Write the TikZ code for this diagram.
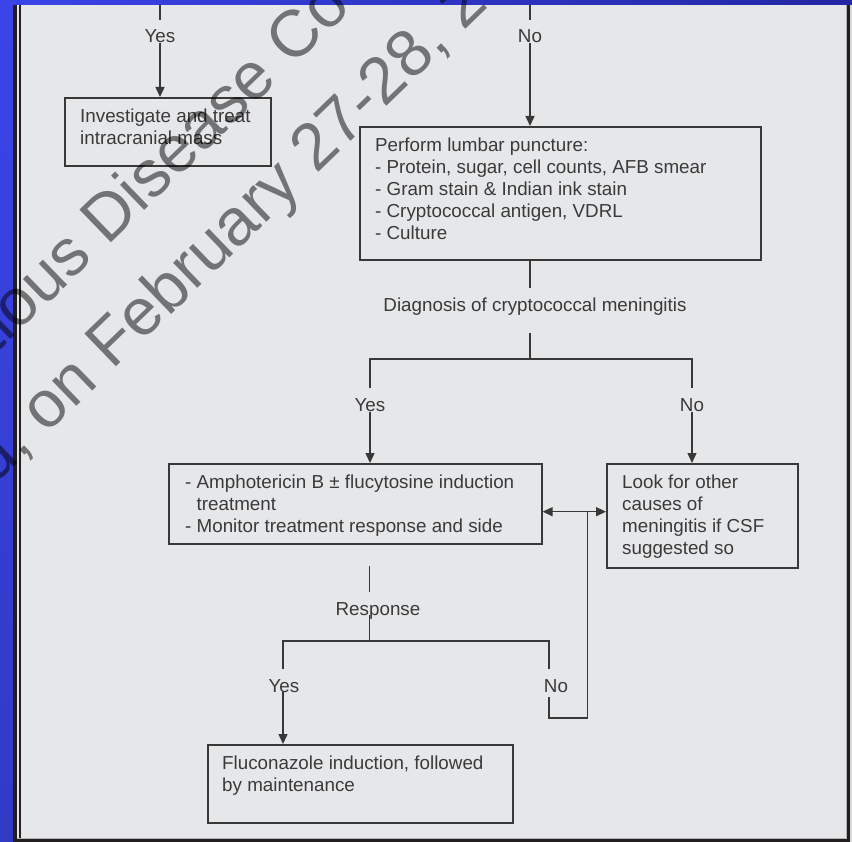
\documentclass[tikz,border=0pt]{standalone}
\usepackage{fontspec}
\setmainfont{Liberation Sans}
\usetikzlibrary{arrows.meta}
\definecolor{panel}{HTML}{E6E7E9}
\definecolor{inkcol}{HTML}{3A3A3A}
\definecolor{bluebar}{HTML}{3B44E8}
\definecolor{bluedark}{HTML}{2327A4}
\definecolor{framecol}{HTML}{231F20}
\colorlet{linecol}{black!78}
\tikzstyle{box}=[draw=linecol, line width=1.6pt, anchor=north west, inner sep=0pt]
\tikzstyle{boxtext}=[anchor=north west, align=left, inner xsep=16pt,
inner ysep=12pt, text=inkcol, font=\fontsize{18.8}{22}\selectfont]
\tikzstyle{lbl}=[anchor=base, inner xsep=2pt, inner ysep=0pt, text height=23pt,
text depth=0pt, text=inkcol, font=\fontsize{18.8}{22}\selectfont]
\tikzstyle{conn}=[draw=linecol, line width=1.4pt]
\tikzstyle{arr}=[conn, -{Triangle[length=10pt,width=9pt]}]
\tikzstyle{dblarr}=[conn, {Triangle[length=10pt,width=9pt]}-{Triangle[length=10pt,width=9pt]}]
\tikzstyle{wmark}=[anchor=base west, inner sep=0pt, rotate=44, text=black,
text opacity=0.5, font=\fontsize{66}{66}\selectfont]

\begin{document}
\begin{tikzpicture}[x=1pt, y=-1pt]
  \useasboundingbox (0,0) rectangle (852,842);
  % Frame
  \fill[panel] (13,0) rectangle (852,842);
  \fill[black!15] (850,5) rectangle (852,842);
  \shade[top color=bluebar, bottom color=bluebar!85!black] (0,0) rectangle (13,842);
  \draw[white!70!black, line width=1pt] (846.5,5) -- (846.5,838.5) -- (17,838.5);
  \draw[framecol, line width=4pt] (15,5) -- (15,842);
  \draw[framecol, line width=1.5pt] (20,5) -- (20,838);
  \draw[framecol, line width=3pt] (13,840.5) -- (850,840.5);
  \draw[framecol, line width=3pt] (848.5,5) -- (848.5,842);
  \shade[left color=bluebar, right color=bluedark] (0,0) rectangle (852,5);
  \coordinate (top1) at (160,5);
  \coordinate (top2) at (530,5);
  \coordinate (split1) at (530,359);
  \coordinate (loop) at (587.5,511.7);
  \coordinate (rtop) at (369.5,566);
  \coordinate (ly) at (283,641);
  \coordinate (ln) at (549,641);
  \coordinate (bend) at (587.5,718);
  % Boxes
  \node[box, minimum width=206pt, minimum height=68pt] (inv) at (64,97) {};
  \node[boxtext] (invt) at (inv.north west) {Investigate and treat\\intracranial mass};
  \node[box, minimum width=401pt, minimum height=133pt] (lp) at (359,126) {};
  \node[boxtext] (lpt) at (lp.north west) {Perform lumbar puncture:\\
    - Protein, sugar, cell counts, AFB smear\\
    - Gram stain \& Indian ink stain\\
    - Cryptococcal antigen, VDRL\\
    - Culture};
  \node[box, minimum width=373pt, minimum height=80pt] (amph) at (168,463) {};
  \node[boxtext, inner xsep=17pt] (ampht) at (amph.north west) {- Amphotericin B ± flucytosine induction\\
    \phantom{- }treatment\\
    - Monitor treatment response and side};
  \node[box, minimum width=191pt, minimum height=104pt] (look) at (606,463) {};
  \node[boxtext] (lookt) at (look.north west) {Look for other\\causes of\\meningitis if CSF\\suggested so};
  \node[box, minimum width=305pt, minimum height=78pt] (fluc) at (207,744) {};
  \node[boxtext, inner xsep=15pt] (fluct) at (fluc.north west) {Fluconazole induction, followed\\by maintenance};
  % Labels
  \node[lbl] (yes1) at (160,43) {Yes};
  \node[lbl] (no1) at (530,43) {No};
  \node[lbl] (diag) at (535,311.7) {Diagnosis of cryptococcal meningitis};
  \node[lbl] (yes2) at (370,411.7) {Yes};
  \node[lbl] (no2) at (692,411.7) {No};
  \node[lbl] (resp) at (378,615) {Response};
  \node[lbl] (yes3) at (284,692) {Yes};
  \node[lbl] (no3) at (556,692) {No};
  % Connectors
  \draw[conn] (top1) -- (yes1.north -| top1);
  \draw[arr] (yes1.south -| top1) -- (inv.north -| top1);
  \draw[conn] (top2) -- (no1.north -| top2);
  \draw[arr] (no1.south -| top2) -- (lp.north -| top2);
  \draw[conn] (lp.south -| top2) -- (diag.north -| top2);
  \draw[conn] ([yshift=-21pt]diag.south -| top2) -- (split1);
  \draw[conn] (yes2.north) -- (yes2.north |- split1) -- (no2.north |- split1) -- (no2.north);
  \draw[arr] (yes2.south) -- (amph.north -| yes2);
  \draw[arr] (no2.south) -- (look.north -| no2);
  \draw[dblarr] (amph.east |- loop) -- (look.west |- loop);
  \draw[conn] (rtop) -- (resp.north -| rtop);
  \draw[conn] (resp.south -| rtop) -- (rtop |- ly);
  \draw[conn] (yes3.north -| ly) -- (ly) -- (ln) -- (no3.north -| ln);
  \draw[arr] (yes3.south -| ly) -- (fluc.north -| ly);
  \draw[conn] ([yshift=-5pt]no3.south -| ln) -- (ln |- bend) -- (bend) -- (loop);
  % Watermark
  \node[wmark] (wm1) at (-5.9,355.8) {tious Disease Co};
  \node[wmark] (wm2) at (-5.9,485.6) {d, on February 27-28, 2};
\end{tikzpicture}
\end{document}
